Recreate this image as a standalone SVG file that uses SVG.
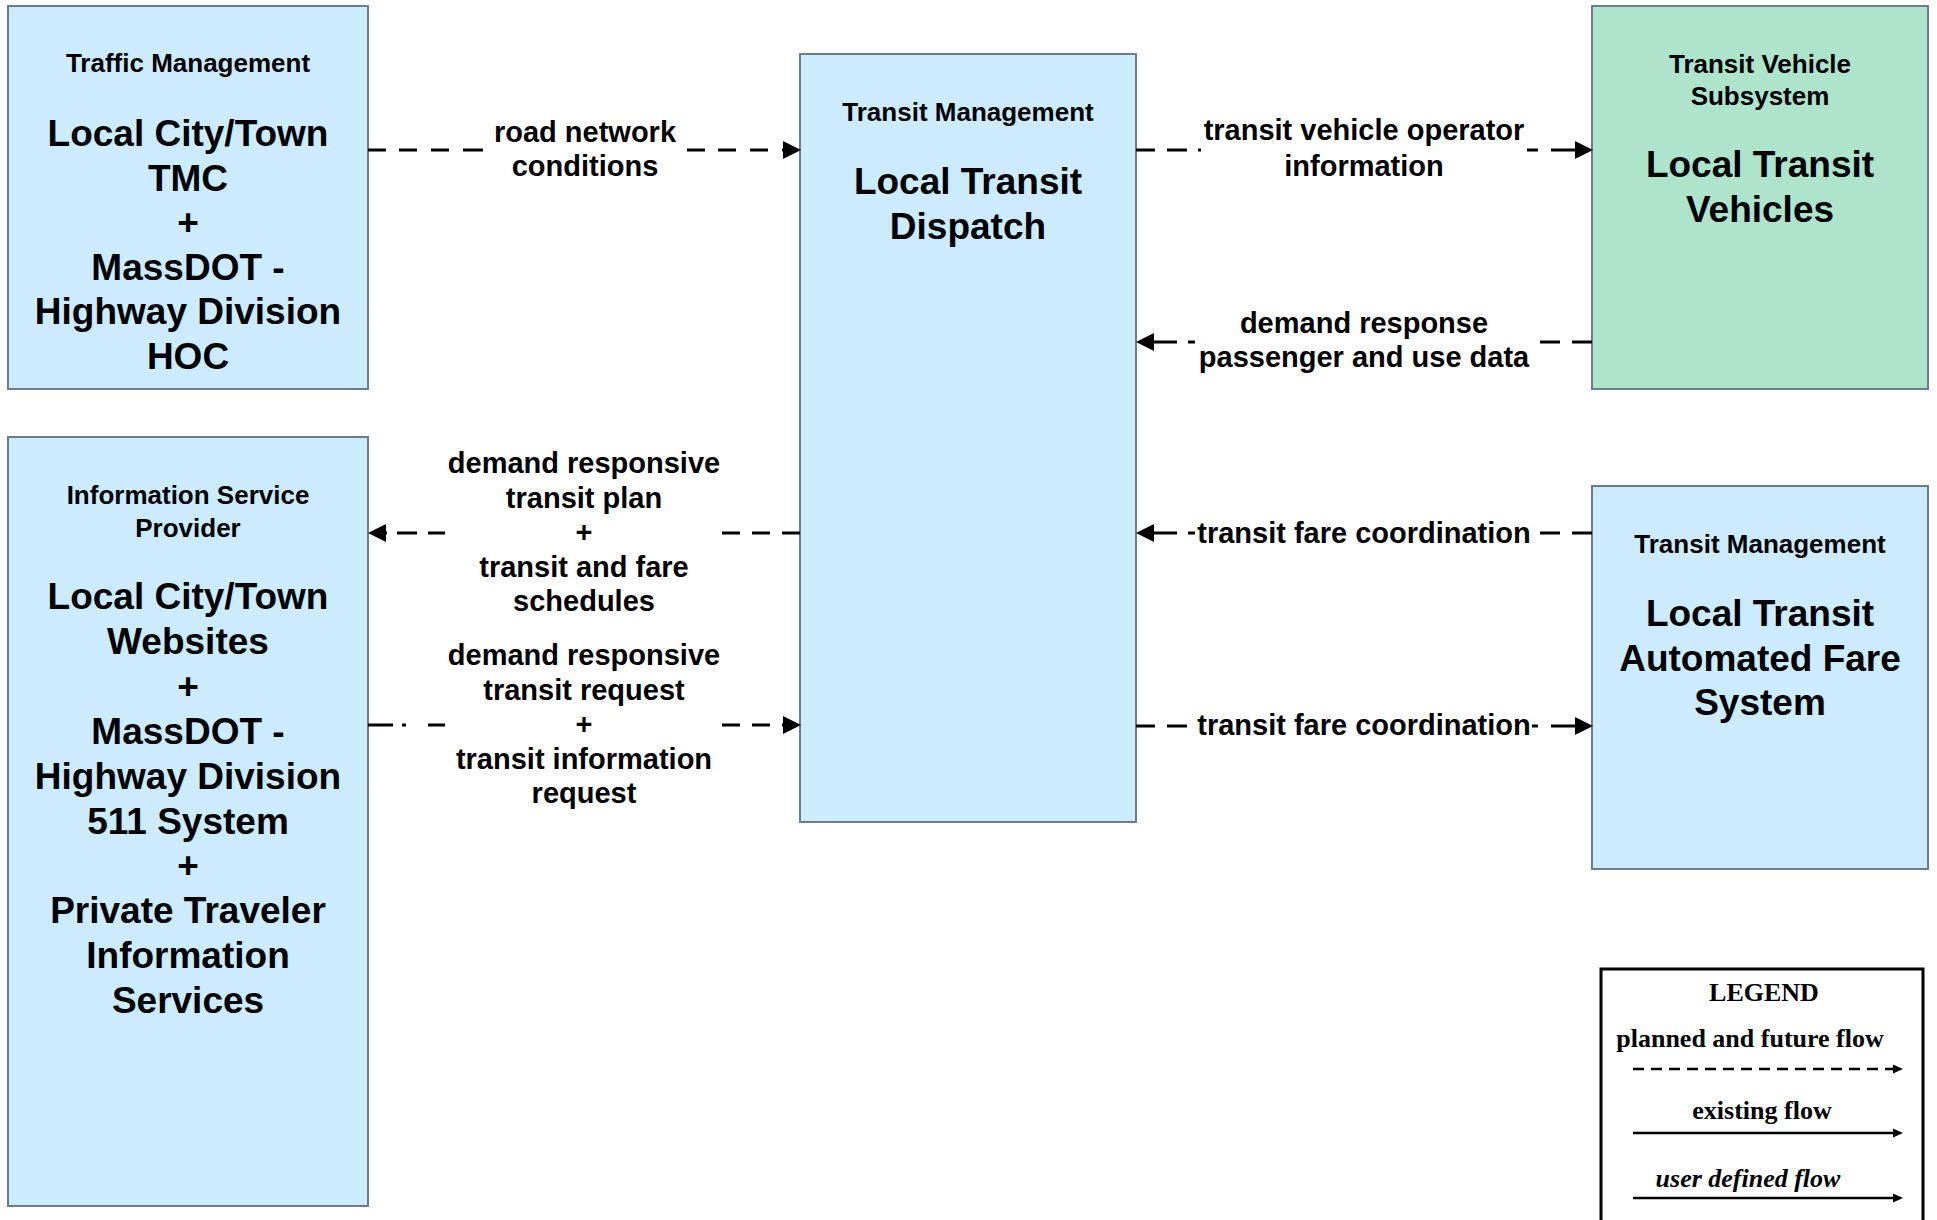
<svg xmlns="http://www.w3.org/2000/svg" width="1937" height="1220" viewBox="0 0 1937 1220">
<style>
.box{fill:#CCEBFF;stroke:#6E7B88;stroke-width:2}
.green{fill:#AEE4CB}
.t{font-family:"Liberation Sans",Arial,sans-serif;font-weight:bold;fill:#000;text-anchor:middle}
.ttl{font-size:26px}
.main{font-size:37px}
.lbl{font-size:29px}
.flow{fill:none;stroke:#000;stroke-width:3}
.lg{font-family:"Liberation Serif","Times New Roman",serif;font-weight:bold;font-size:26px;fill:#000;text-anchor:middle}
</style>
<defs>
<marker id="ah" markerUnits="userSpaceOnUse" markerWidth="20" markerHeight="20" refX="0" refY="9" orient="auto" overflow="visible">
<path d="M0,0 L18,9 L0,18 z" fill="#000"/>
</marker>
<marker id="ahs" markerUnits="userSpaceOnUse" markerWidth="12" markerHeight="12" refX="0" refY="4.5" orient="auto" overflow="visible">
<path d="M0,0 L10,4.5 L0,9 z" fill="#000"/>
</marker>
</defs>
<rect width="1937" height="1220" fill="#fff"/>

<g id="traffic-management">
<rect class="box" x="8" y="6" width="360" height="383"/>
<text class="t ttl" x="188" y="72">Traffic Management</text>
<text class="t main" x="188" y="146"><tspan x="188">Local City/Town</tspan><tspan x="188" dy="44.6">TMC</tspan><tspan x="188" dy="44.6">+</tspan><tspan x="188" dy="44.6">MassDOT -</tspan><tspan x="188" dy="44.6">Highway Division</tspan><tspan x="188" dy="44.6">HOC</tspan></text>
</g>

<g id="information-service-provider">
<rect class="box" x="8" y="437" width="360" height="769"/>
<text class="t ttl" x="188" y="504"><tspan x="188">Information Service</tspan><tspan x="188" dy="32.5">Provider</tspan></text>
<text class="t main" x="188" y="609"><tspan x="188">Local City/Town</tspan><tspan x="188" dy="44.9">Websites</tspan><tspan x="188" dy="44.9">+</tspan><tspan x="188" dy="44.9">MassDOT -</tspan><tspan x="188" dy="44.9">Highway Division</tspan><tspan x="188" dy="44.9">511 System</tspan><tspan x="188" dy="44.9">+</tspan><tspan x="188" dy="44.9">Private Traveler</tspan><tspan x="188" dy="44.9">Information</tspan><tspan x="188" dy="44.9">Services</tspan></text>
</g>

<g id="local-transit-dispatch">
<rect class="box" x="800" y="54" width="336" height="768"/>
<text class="t ttl" x="968" y="121">Transit Management</text>
<text class="t main" x="968" y="194"><tspan x="968">Local Transit</tspan><tspan x="968" dy="45">Dispatch</tspan></text>
</g>

<g id="local-transit-vehicles">
<rect class="box green" x="1592" y="6" width="336" height="383"/>
<text class="t ttl" x="1760" y="73"><tspan x="1760">Transit Vehicle</tspan><tspan x="1760" dy="31.5">Subsystem</tspan></text>
<text class="t main" x="1760" y="177"><tspan x="1760">Local Transit</tspan><tspan x="1760" dy="45">Vehicles</tspan></text>
</g>

<g id="local-transit-afc">
<rect class="box" x="1592" y="486" width="336" height="383"/>
<text class="t ttl" x="1760" y="553">Transit Management</text>
<text class="t main" x="1760" y="626"><tspan x="1760">Local Transit</tspan><tspan x="1760" dy="44.5">Automated Fare</tspan><tspan x="1760" dy="44.5">System</tspan></text>
</g>

<g id="connectors">
<path class="flow" marker-end="url(#ah)" d="M368,150H386M399,150H417M431,150H449M463,150H483M687,150H705M718,150H736M750,150H768M782,150H783"/>
<text class="t lbl" x="585" y="142"><tspan x="585">road network</tspan><tspan x="585" dy="34">conditions</tspan></text>

<path class="flow" marker-end="url(#ah)" d="M1136,150H1155M1167,150H1187M1198,150H1201M1527,150H1538M1551,150H1574M1574,150H1575"/>
<text class="t lbl" x="1364" y="140"><tspan x="1364">transit vehicle operator</tspan><tspan x="1364" dy="36">information</tspan></text>

<path class="flow" marker-end="url(#ah)" d="M1592,342H1572M1560,342H1540M1195,342H1188M1177,342H1155M1155,342H1154"/>
<text class="t lbl" x="1364" y="333"><tspan x="1364">demand response</tspan><tspan x="1364" dy="34">passenger and use data</tspan></text>

<path class="flow" marker-end="url(#ah)" d="M800,533H782M770,533H752M740,533H722M445,533H428M417,533H397M387,533H386"/>
<text class="t lbl" x="584" y="473"><tspan x="584">demand responsive</tspan><tspan x="584" dy="34.6">transit plan</tspan><tspan x="584" dy="34.6">+</tspan><tspan x="584" dy="34.6">transit and fare</tspan><tspan x="584" dy="34.6">schedules</tspan></text>

<path class="flow" marker-end="url(#ah)" d="M368,725H393M402,725H406M428,725H445M722,725H740M752,725H770M782,725H783"/>
<text class="t lbl" x="584" y="665"><tspan x="584">demand responsive</tspan><tspan x="584" dy="34.6">transit request</tspan><tspan x="584" dy="34.6">+</tspan><tspan x="584" dy="34.6">transit information</tspan><tspan x="584" dy="34.6">request</tspan></text>

<path class="flow" marker-end="url(#ah)" d="M1592,533H1572M1560,533H1540M1195,533H1188M1177,533H1155M1155,533H1154"/>
<text class="t lbl" x="1364" y="543">transit fare coordination</text>

<path class="flow" marker-end="url(#ah)" d="M1136,726H1155M1167,726H1187M1532,726H1538M1551,726H1574M1574,726H1575"/>
<text class="t lbl" x="1364" y="735">transit fare coordination</text>
</g>

<g id="legend">
<rect x="1601" y="969" width="322" height="300" fill="#fff" stroke="#000" stroke-width="3"/>
<text class="lg" x="1764" y="1001">LEGEND</text>
<text class="lg" x="1750" y="1047">planned and future flow</text>
<path d="M1633,1069H1893" stroke="#000" stroke-width="2.5" stroke-dasharray="11 7" fill="none"/>
<path d="M1892,1069H1893" stroke="#000" stroke-width="2.5" fill="none" marker-end="url(#ahs)"/>
<text class="lg" x="1762" y="1119">existing flow</text>
<path d="M1633,1133H1893" stroke="#000" stroke-width="2.5" fill="none" marker-end="url(#ahs)"/>
<text class="lg" x="1748" y="1187" font-style="italic">user defined flow</text>
<path d="M1633,1198H1893" stroke="#000" stroke-width="2.5" fill="none" marker-end="url(#ahs)"/>
</g>
</svg>
